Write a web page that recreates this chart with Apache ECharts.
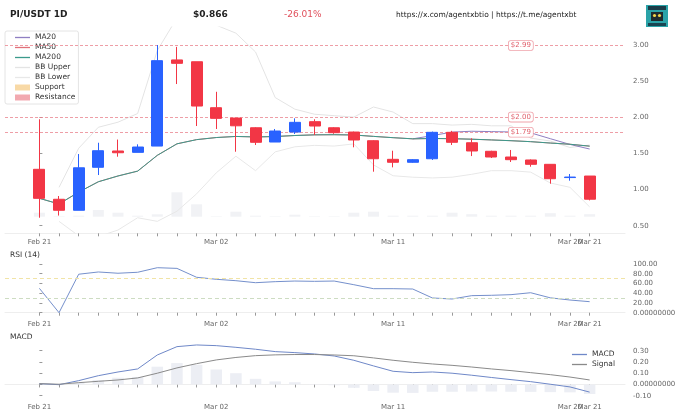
<!DOCTYPE html>
<html>
<head>
<meta charset="utf-8">
<script src="https://cdn.jsdelivr.net/npm/echarts@6/dist/echarts.min.js"></script>
<style>
  html, body { margin: 0; padding: 0; background: #fff; }
  #chart-container { width: 680px; height: 415px; }
</style>
</head>
<body>
<div id="chart-container"></div>
<script>
var dom = document.getElementById('chart-container');
var myChart = echarts.init(dom, null, { renderer: 'canvas' });

// daily candles, Feb 21 .. Mar 21
const dates = ['Feb 21', 'Feb 22', 'Feb 23', 'Feb 24', 'Feb 25', 'Feb 26', 'Feb 27', 'Feb 28',
  'Mar 01', 'Mar 02', 'Mar 03', 'Mar 04', 'Mar 05', 'Mar 06', 'Mar 07', 'Mar 08', 'Mar 09',
  'Mar 10', 'Mar 11', 'Mar 12', 'Mar 13', 'Mar 14', 'Mar 15', 'Mar 16', 'Mar 17', 'Mar 18',
  'Mar 19', 'Mar 20', 'Mar 21'];
const dayTicks = dates.map((d, i) => i);
const labelDays = [0, 9, 18, 28];
const extraLabelDays = [27]; // 'Mar 20' sits on top of 'Mar 21', drawn on its own axis

const open = [1.279, 0.865, 0.713, 1.307, 1.532, 1.513, 1.60, 2.79, 2.765, 2.13, 1.987, 1.853, 1.656, 1.794,
  1.937, 1.853, 1.794, 1.674, 1.417, 1.376, 1.425, 1.79, 1.646, 1.528, 1.449, 1.408, 1.348, 1.165, 1.186];
const close = [0.878, 0.713, 1.30, 1.536, 1.508, 1.587, 2.78, 2.743, 2.153, 1.983, 1.88, 1.652, 1.808, 1.928,
  1.877, 1.785, 1.684, 1.425, 1.376, 1.412, 1.79, 1.652, 1.532, 1.449, 1.412, 1.348, 1.149, 1.172, 0.866];
const low = [0.61, 0.64, 0.713, 1.20, 1.453, 1.513, 1.60, 2.457, 1.877, 1.836, 1.522, 1.615, 1.656, 1.767,
  1.753, 1.77, 1.583, 1.246, 1.306, 1.37, 1.408, 1.615, 1.462, 1.435, 1.38, 1.315, 1.08, 1.122, 0.85];
const high = [1.97, 0.91, 1.49, 1.646, 1.69, 1.624, 2.996, 2.97, 2.765, 2.35, 1.987, 1.86, 1.836, 1.983,
  1.97, 1.86, 1.80, 1.68, 1.536, 1.42, 1.80, 1.81, 1.707, 1.535, 1.546, 1.415, 1.35, 1.214, 1.186];
const volume = [4, 0.5, 1, 6.7, 4, 1, 2.4, 24.4, 12.4, 0.5, 5, 1, 0.5, 2, 0.5, 0.5, 4, 5, 1, 1, 1, 4, 2.5,
  1, 1, 1, 3.5, 1, 2.5];

const ma20 = ['-', '-', '-', '-', '-', '-', '-', '-', '-', '-', '-', '-', '-', '-', '-', '-', '-', '-', '-',
  1.700, 1.745, 1.793, 1.805, 1.800, 1.795, 1.783, 1.702, 1.623, 1.559];
const ma50 = [0.878, 0.80, 0.964, 1.107, 1.187, 1.254, 1.472, 1.631, 1.689, 1.718, 1.733, 1.726, 1.732,
  1.746, 1.755, 1.757, 1.753, 1.734, 1.716, 1.700, 1.705, 1.702, 1.695, 1.685, 1.674, 1.661, 1.642, 1.625, 1.599];
const ma200 = [0.878, 0.80, 0.964, 1.107, 1.187, 1.254, 1.472, 1.631, 1.689, 1.718, 1.733, 1.726, 1.732,
  1.746, 1.755, 1.757, 1.753, 1.734, 1.716, 1.700, 1.705, 1.702, 1.695, 1.685, 1.674, 1.661, 1.642, 1.625, 1.599];
const bbUpper = ['-', 1.03, 1.57, 1.86, 1.93, 2.05, 2.92, 3.37, 3.37, 3.27, 3.16, 2.90, 2.27, 2.11, 2.04,
  2.02, 2.00, 2.14, 2.07, 1.91, 1.91, 1.89, 1.90, 1.88, 1.88, 1.71, 1.67, 1.58, 1.615];
const bbLower = ['-', 0.56, 0.36, 0.35, 0.44, 0.61, 0.56, 0.70, 0.94, 1.23, 1.46, 1.26, 1.52, 1.59, 1.61,
  1.60, 1.63, 1.34, 1.19, 1.17, 1.16, 1.17, 1.21, 1.26, 1.26, 1.24, 1.09, 1.03, 0.76];
const resistance = [2.99, 2.00, 1.79];

const rsi = [50, 0, 79, 83.6, 81, 83, 92.4, 91, 72.7, 68.6, 65.7, 61.6, 63.7, 65, 64.4, 65, 57.5, 49.3,
  49.3, 48.6, 30.2, 28.1, 35, 35.7, 37, 41, 30.5, 26, 22.6];
const macd = [0.007, -0.002, 0.034, 0.078, 0.111, 0.138, 0.262, 0.336, 0.351, 0.345, 0.33, 0.313, 0.292,
  0.283, 0.271, 0.253, 0.215, 0.165, 0.117, 0.105, 0.111, 0.100, 0.082, 0.062, 0.043, 0.025, 0.002, -0.022, -0.068];
const signal = [0.007, 0.002, 0.016, 0.028, 0.04, 0.058, 0.1, 0.147, 0.185, 0.218, 0.24, 0.256, 0.263,
  0.266, 0.266, 0.262, 0.255, 0.236, 0.215, 0.197, 0.182, 0.17, 0.155, 0.138, 0.123, 0.105, 0.087, 0.066, 0.04];
const hist = [0, -0.003, 0.015, 0.04, 0.06, 0.067, 0.158, 0.19, 0.175, 0.133, 0.1, 0.05, 0.027, 0.02, 0.004,
  -0.007, -0.03, -0.058, -0.073, -0.075, -0.065, -0.065, -0.063, -0.063, -0.065, -0.066, -0.068, -0.07, -0.085];

const priceTicks = [0.5, 1.0, 1.5, 2.0, 2.5, 3.0];
const rsiTicks = [0, 20, 40, 60, 80, 100];
const macdTicks = [-0.1, 0, 0.1, 0.2, 0.3];

const FONT = 'DejaVu Sans';
const RED = '#F23645';
const BLUE = '#2962FF';

function xy(arr) {
  return arr.map((v, i) => [i, v]);
}

function xAxisFor(gridIndex, showLabels) {
  return {
    type: 'value', gridIndex: gridIndex, position: 'bottom', min: -1.75, max: 29.8,
    axisLine: { show: showLabels, lineStyle: { color: '#eeeeee' } },
    axisTick: { show: showLabels, customValues: dayTicks, length: 3, lineStyle: { color: '#999' } },
    axisLabel: {
      show: showLabels, customValues: labelDays, margin: 5, hideOverlap: false,
      fontFamily: FONT, fontSize: 7, color: '#666',
      formatter: v => dates[Math.round(v)]
    },
    splitLine: { show: false }
  };
}

// second bottom axis on the same grid, only carrying the label that would collide
function extraXAxis(gridIndex) {
  return {
    type: 'value', gridIndex: gridIndex, position: 'bottom', offset: 0, min: -1.75, max: 29.8,
    axisLine: { show: false }, axisTick: { show: false }, splitLine: { show: false },
    axisLabel: {
      customValues: extraLabelDays, margin: 5, fontFamily: FONT, fontSize: 7, color: '#666',
      formatter: v => dates[Math.round(v)]
    }
  };
}

function yAxisFor(gridIndex, min, max, ticks, fmt) {
  return {
    type: 'value', gridIndex: gridIndex, position: 'right', min: min, max: max,
    axisLine: { show: false },
    axisTick: { show: true, customValues: ticks, length: 3, lineStyle: { color: '#999' } },
    axisLabel: { customValues: ticks, margin: 8, fontFamily: FONT, fontSize: 7, color: '#666', formatter: fmt },
    splitLine: { show: false }
  };
}

const lineIcon = 'path://M0,0 L16,0 L16,1.4 L0,1.4 Z';

var option = {
  animation: false,
  backgroundColor: '#ffffff',
  textStyle: { fontFamily: FONT },
  grid: [
    { left: 5, right: 55, top: 27, height: 206.3 },
    { left: 5, right: 55, top: 176.7, height: 40 },
    { left: 5, right: 55, top: 260, height: 56 },
    { left: 5, right: 55, top: 341.7, height: 56.6 }
  ],
  xAxis: [xAxisFor(0, true), xAxisFor(1, false), xAxisFor(2, true), xAxisFor(3, true),
    extraXAxis(0), extraXAxis(2), extraXAxis(3)],
  yAxis: [
    yAxisFor(0, 0.395, 3.245, priceTicks, v => v.toFixed(2)),
    { type: 'value', gridIndex: 1, min: 0, max: 40, show: false },
    yAxisFor(2, -6.8, 108.2, rsiTicks, v => (v === 0 ? '0.00000000' : v.toFixed(2))),
    yAxisFor(3, -0.123, 0.38, macdTicks, v => (Math.abs(v) < 1e-9 ? '0.00000000' : v.toFixed(2)))
  ],
  legend: [
    {
      left: 5, top: 31, orient: 'vertical', itemWidth: 15, itemHeight: 6, itemGap: 1,
      backgroundColor: '#fff', borderColor: '#e4e4e4', borderWidth: 1, borderRadius: 2,
      padding: [2, 3, 2, 10],
      textStyle: { fontFamily: FONT, fontSize: 7.5, color: '#333', lineHeight: 9 },
      data: [
        { name: 'MA20', icon: lineIcon },
        { name: 'MA50', icon: lineIcon },
        { name: 'MA200', icon: lineIcon },
        { name: 'BB Upper', icon: lineIcon },
        { name: 'BB Lower', icon: lineIcon },
        { name: 'Support', icon: 'rect' },
        { name: 'Resistance', icon: 'rect' }
      ]
    },
    {
      right: 60, top: 345, orient: 'vertical', itemWidth: 15, itemHeight: 6, itemGap: 1,
      textStyle: { fontFamily: FONT, fontSize: 7.5, color: '#333', lineHeight: 9 },
      data: [{ name: 'MACD', icon: lineIcon }, { name: 'Signal', icon: lineIcon }]
    }
  ],
  graphic: [
    { type: 'text', left: 10, top: 10, style: { text: 'PI/USDT 1D', font: 'bold 9px DejaVu Sans', fill: '#222' } },
    { type: 'text', left: 193, top: 10, style: { text: '$0.866', font: 'bold 9px DejaVu Sans', fill: '#222' } },
    { type: 'text', left: 284, top: 10, style: { text: '-26.01%', font: '9px DejaVu Sans', fill: '#e0505c' } },
    { type: 'text', left: 396, top: 11, style: { text: 'https://x.com/agentxbtio | https://t.me/agentxbt', font: '7.5px DejaVu Sans', fill: '#222' } },
    { type: 'text', left: 10, top: 251, style: { text: 'RSI (14)', font: '7.5px DejaVu Sans', fill: '#333' } },
    { type: 'text', left: 10, top: 333, style: { text: 'MACD', font: '7.5px DejaVu Sans', fill: '#333' } },
    {
      type: 'group', left: 646, top: 5,
      children: [
        { type: 'rect', shape: { x: 0, y: 0, width: 22, height: 22 }, style: { fill: '#2aa3a8' } },
        { type: 'rect', shape: { x: 2, y: 1, width: 18, height: 4 }, style: { fill: '#1b3c48' } },
        { type: 'rect', shape: { x: 5, y: 7, width: 12, height: 9 }, style: { fill: '#1e2a2e' } },
        { type: 'circle', shape: { cx: 8.5, cy: 10.5, r: 1.6 }, style: { fill: '#f2d34a' } },
        { type: 'circle', shape: { cx: 13.5, cy: 10.5, r: 1.6 }, style: { fill: '#f2d34a' } },
        { type: 'rect', shape: { x: 2, y: 18, width: 18, height: 3 }, style: { fill: '#184552' } }
      ]
    }
  ],
  series: [
    {
      name: 'Volume', type: 'bar', xAxisIndex: 1, yAxisIndex: 1, z: 1,
      data: xy(volume), barWidth: 11, itemStyle: { color: '#f1f2f5' }, silent: true
    },
    {
      name: 'Price', type: 'candlestick', xAxisIndex: 0, yAxisIndex: 0, z: 5,
      data: dates.map((d, i) => [i, open[i], close[i], low[i], high[i]]),
      encode: { x: 0, y: [1, 2, 3, 4] },
      barWidth: 11.5,
      itemStyle: { color: BLUE, color0: RED, borderColor: BLUE, borderColor0: RED, borderWidth: 1 },
      markLine: {
        silent: true, symbol: 'none', label: { show: false },
        lineStyle: { color: '#e8808a', type: [3, 2], width: 0.9, opacity: 0.85 },
        data: resistance.map(v => ({ yAxis: v }))
      },
      markPoint: {
        silent: true, symbol: 'rect', symbolSize: 0,
        label: {
          show: true, position: 'inside', fontFamily: FONT, fontSize: 7, color: '#e0606c',
          backgroundColor: '#fff', borderColor: '#f0a2aa', borderWidth: 0.8, borderRadius: 2,
          padding: [1, 2], formatter: p => '$' + p.value.toFixed(2)
        },
        data: resistance.map(v => ({ coord: [24.5, v], value: v }))
      }
    },
    {
      name: 'MA20', type: 'line', xAxisIndex: 0, yAxisIndex: 0, z: 3, data: xy(ma20),
      showSymbol: false, itemStyle: { color: '#8f7fc2' }, lineStyle: { width: 1, color: '#8f7fc2' }
    },
    {
      name: 'MA50', type: 'line', xAxisIndex: 0, yAxisIndex: 0, z: 3, data: xy(ma50),
      showSymbol: false, itemStyle: { color: '#e07079' }, lineStyle: { width: 1, color: '#e07079' }
    },
    {
      name: 'MA200', type: 'line', xAxisIndex: 0, yAxisIndex: 0, z: 3, data: xy(ma200),
      showSymbol: false, itemStyle: { color: '#3b9a8c' }, lineStyle: { width: 1, color: '#3b9a8c' }
    },
    {
      name: 'BB Upper', type: 'line', xAxisIndex: 0, yAxisIndex: 0, z: 2, data: xy(bbUpper),
      showSymbol: false, itemStyle: { color: '#e4e4e4' }, lineStyle: { width: 1, color: '#e4e4e4' }
    },
    {
      name: 'BB Lower', type: 'line', xAxisIndex: 0, yAxisIndex: 0, z: 2, data: xy(bbLower),
      showSymbol: false, itemStyle: { color: '#e8e8e8' }, lineStyle: { width: 1, color: '#e8e8e8' }
    },
    { name: 'Support', type: 'bar', xAxisIndex: 0, yAxisIndex: 0, data: [], itemStyle: { color: '#f8d9a6' } },
    { name: 'Resistance', type: 'bar', xAxisIndex: 0, yAxisIndex: 0, data: [], itemStyle: { color: '#f2a9b0' } },
    {
      name: 'RSI', type: 'line', xAxisIndex: 2, yAxisIndex: 2, data: xy(rsi), showSymbol: false,
      lineStyle: { width: 1, color: '#7590cc' }, itemStyle: { color: '#7590cc' },
      markLine: {
        silent: true, symbol: 'none', label: { show: false },
        lineStyle: { type: [4, 3], width: 1 },
        data: [
          { yAxis: 70, lineStyle: { color: '#f1e4a6' } },
          { yAxis: 30, lineStyle: { color: '#cddcc2' } }
        ]
      }
    },
    {
      name: 'Hist', type: 'bar', xAxisIndex: 3, yAxisIndex: 3, data: xy(hist), barWidth: 11.5,
      itemStyle: { color: '#eceef4' }, silent: true
    },
    {
      name: 'MACD', type: 'line', xAxisIndex: 3, yAxisIndex: 3, data: xy(macd), showSymbol: false,
      lineStyle: { width: 1, color: '#6f88c8' }, itemStyle: { color: '#6f88c8' }
    },
    {
      name: 'Signal', type: 'line', xAxisIndex: 3, yAxisIndex: 3, data: xy(signal), showSymbol: false,
      lineStyle: { width: 1, color: '#8a8a8a' }, itemStyle: { color: '#8a8a8a' }
    }
  ]
};

myChart.setOption(option);
window.addEventListener('resize', myChart.resize);
</script>
</body>
</html>
